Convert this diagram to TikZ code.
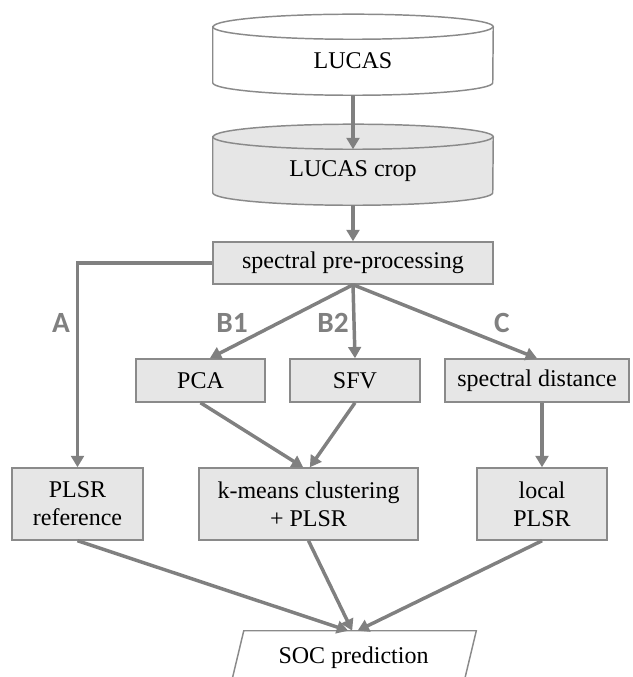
\documentclass[tikz,border=0pt]{standalone}
\usepackage{fontspec}
\setmainfont{Liberation Serif}
\newfontfamily\pathfont{Carlito}
\usetikzlibrary{
  backgrounds,
  arrows.meta % for the Triangle tips
}
\definecolor{boxfill}{HTML}{E6E6E6}
\definecolor{linegray}{HTML}{808080}
\definecolor{rimgray}{HTML}{8A8A8A}

% cylinder round a node: top ellipse centred on north, bottom arc touches south
\newcommand{\drawcyl}[2]{%
  \filldraw[cylline,fill=#2] (#1.north west) -- ([yshift=9.4pt]#1.south west)
     arc[start angle=180,end angle=360,x radius=105pt,y radius=9.4pt]
     -- (#1.north east)
     arc[start angle=0,end angle=180,x radius=105pt,y radius=9.4pt] -- cycle;
  \draw[cylline] (#1.north west)
     arc[start angle=180,end angle=360,x radius=105pt,y radius=9.4pt];
}

\begin{document}
\begin{tikzpicture}[
  x=0.75pt, y=-0.75pt,
  font=\rmfamily\fontsize{18}{21}\selectfont,
  box/.style={
     rectangle,
     draw=rimgray,
     line width=1.1pt,
     fill=boxfill,
     inner sep=0pt,
     align=center,
     minimum height=32.25pt
  },
  tallbox/.style={box, minimum height=54pt},
  store/.style={
     rectangle,
     inner sep=0pt,
     minimum width=210pt,
     minimum height=51pt
  },
  cylline/.style={draw=rimgray, line width=1.1pt},
  flow/.style={
     draw=linegray,
     line width=2.6pt,
     -{Triangle[length=8.5pt,width=9.5pt]}
  },
  pathlabel/.style={font=\pathfont\bfseries\fontsize{22}{26}\selectfont, text=linegray}
]
   \useasboundingbox (0,0) rectangle (632,677);

   % The data bases
   \node[store] (lucas) at (353,61) {LUCAS};
   \node[store] (crop) at (353,171) {LUCAS crop};
   \begin{scope}[on background layer]
     \drawcyl{lucas}{white}
     \drawcyl{crop}{boxfill}
   \end{scope}
   \coordinate (croprim) at ([yshift=-9.4pt]crop.north);

   % The processing steps
   \node[box,minimum width=210pt,minimum height=31.5pt] (prep) at (353,263) {spectral pre-processing};
   \node[box,minimum width=96.75pt] (pca) at (200.5,380.5) {PCA};
   \node[box,minimum width=97.5pt] (sfv) at (355,380.5) {SFV};
   \node[box,minimum width=138pt] (dist) at (537,380.5) {spectral distance};
   \node[tallbox,minimum width=98.25pt] (ref) at (77.5,504) {PLSR\\reference};
   \node[tallbox,minimum width=164.25pt] (kmeans) at (308.5,504) {k-means clustering\\+ PLSR};
   \node[tallbox,minimum width=97.5pt] (local) at (542,504) {local\\PLSR};
   \node[rectangle,inner sep=0pt,minimum width=174pt,minimum height=40.5pt] (soc) at (353.5,658) {SOC prediction};
   \draw[cylline] ([xshift=4.9pt]soc.north west) -- ([xshift=4.9pt]soc.north east)
      -- ([xshift=-4.9pt]soc.south east) -- ([xshift=-4.9pt]soc.south west) -- cycle;

   % The connecting arrows
   \draw[flow] (lucas.south) -- (croprim);
   \draw[flow] (crop.south) -- (prep.north);
   \draw[flow] (prep.west) -| (ref.north);
   \draw[flow] (prep.south) -- ([xshift=7pt]pca.north);
   \draw[flow] (prep.south) -- (sfv.north);
   \draw[flow] (prep.south) -- (dist.north);
   \draw[flow] (pca.south) -- ([xshift=-4pt]kmeans.north);
   \draw[flow] (sfv.south) -- ([xshift=1pt]kmeans.north);
   \draw[flow] (dist.south -| local.north) -- (local.north);
   \draw[flow] (ref.south) -- ([xshift=-4pt]soc.north);
   \draw[flow] (kmeans.south) -- ([xshift=-1pt]soc.north);
   \draw[flow] (local.south) -- ([xshift=3pt]soc.north);

   % The path names
   \node[pathlabel] (la) at (61,323) {A};
   \node[pathlabel] (lb1) at (232,323) {B1};
   \node[pathlabel] (lb2) at (333,323) {B2};
   \node[pathlabel] (lc) at (502,323) {C};
\end{tikzpicture}
\end{document}
